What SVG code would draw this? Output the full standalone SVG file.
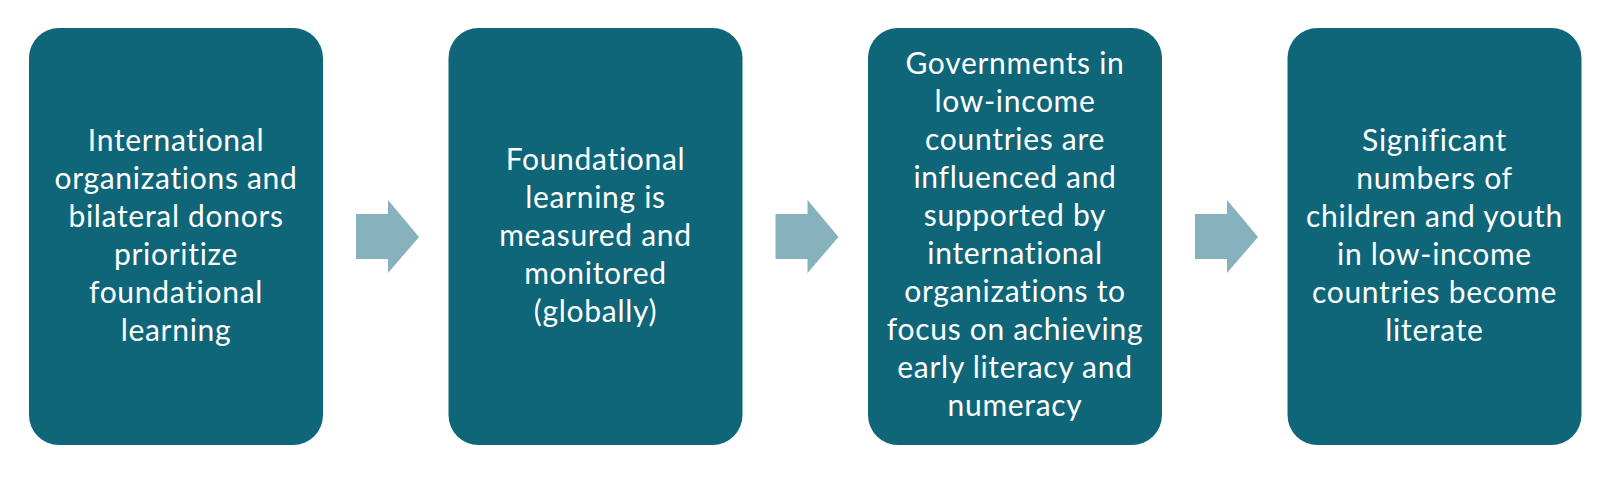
<svg xmlns="http://www.w3.org/2000/svg" width="1618" height="478" viewBox="0 0 1618 478">
<style>
.box{fill:#0f6679;}
.arr{fill:#85b2bd;}
.t{font-family:Lato,"Noto Sans","Liberation Sans",sans-serif;font-size:30px;letter-spacing:0.7px;font-variant-ligatures:none;fill:#ffffff;text-anchor:middle;}
</style>
<rect x="0" y="0" width="1618" height="478" fill="#ffffff"/>
<g id="connectors">
<polygon class="arr" points="356,214 388,214 388,200 419,237 388,273 388,259 356,259"/>
<polygon class="arr" points="775.5,214 807.5,214 807.5,200 838.5,237 807.5,273 807.5,259 775.5,259"/>
<polygon class="arr" points="1195,214 1227,214 1227,200 1258,237 1227,273 1227,259 1195,259"/>
</g>
<g id="node1">
<rect class="box" x="29" y="28" width="294" height="417" rx="30"/>
<text class="t"><tspan x="176" y="151">International</tspan><tspan x="176" y="189">organizations and</tspan><tspan x="176" y="227">bilateral donors</tspan><tspan x="176" y="265">prioritize</tspan><tspan x="176" y="303">foundational</tspan><tspan x="176" y="341">learning</tspan></text>
</g>
<g id="node2">
<rect class="box" x="448.5" y="28" width="294" height="417" rx="30"/>
<text class="t"><tspan x="595.5" y="170">Foundational</tspan><tspan x="595.5" y="208">learning is</tspan><tspan x="595.5" y="246">measured and</tspan><tspan x="595.5" y="284">monitored</tspan><tspan x="595.5" y="322">(globally)</tspan></text>
</g>
<g id="node3">
<rect class="box" x="868" y="28" width="294" height="417" rx="30"/>
<text class="t"><tspan x="1015" y="74">Governments in</tspan><tspan x="1015" y="112">low-income</tspan><tspan x="1015" y="150">countries are</tspan><tspan x="1015" y="188">influenced and</tspan><tspan x="1015" y="226">supported by</tspan><tspan x="1015" y="264">international</tspan><tspan x="1015" y="302">organizations to</tspan><tspan x="1015" y="340">focus on achieving</tspan><tspan x="1015" y="378">early literacy and</tspan><tspan x="1015" y="416">numeracy</tspan></text>
</g>
<g id="node4">
<rect class="box" x="1287.5" y="28" width="294" height="417" rx="30"/>
<text class="t"><tspan x="1434.5" y="151">Significant</tspan><tspan x="1434.5" y="189">numbers of</tspan><tspan x="1434.5" y="227">children and youth</tspan><tspan x="1434.5" y="265">in low-income</tspan><tspan x="1434.5" y="303">countries become</tspan><tspan x="1434.5" y="341">literate</tspan></text>
</g>
</svg>
